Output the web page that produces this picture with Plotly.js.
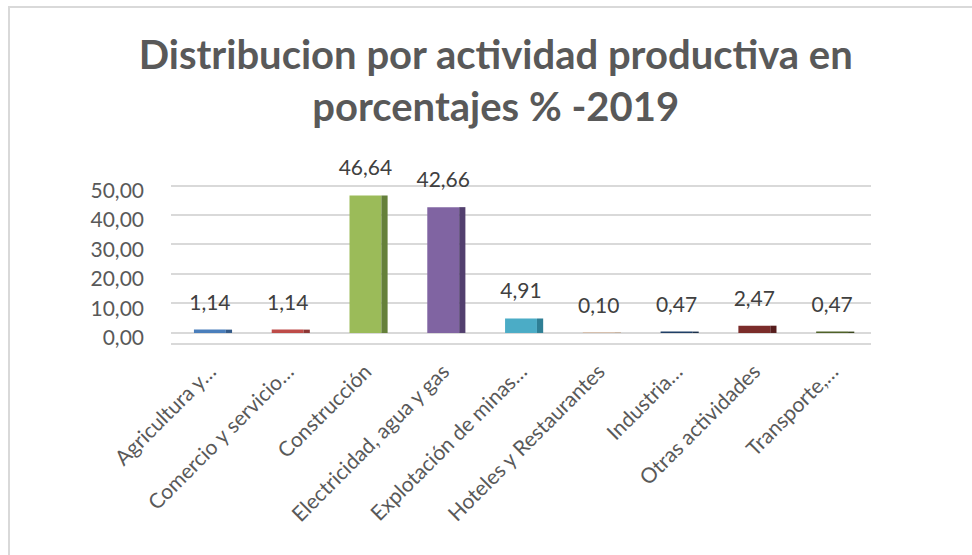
<!DOCTYPE html>
<html>
<head>
<meta charset="utf-8">
<script src="https://cdn.plot.ly/plotly-3.0.1.min.js"></script>
<style>
html,body{margin:0;padding:0;background:#fff;overflow:hidden;}
#chart{width:972px;height:555px;position:absolute;left:0;top:0;}
#frame{position:absolute;left:8px;top:6px;width:2000px;height:2000px;border-top:2px solid #d9d9d9;border-left:2px solid #d9d9d9;pointer-events:none;z-index:10;}
</style>
</head>
<body>
<div id="chart"></div>
<div id="frame"></div>
<script>
const categories = [
  "Agricultura y…",
  "Comercio y servicio…",
  "Construcción",
  "Electricidad, agua y gas",
  "Explotación de minas…",
  "Hoteles y Restaurantes",
  "Industria…",
  "Otras actividades",
  "Transporte,…"
];
const values = [1.14, 1.14, 46.64, 42.66, 4.91, 0.10, 0.47, 2.47, 0.47];
const frontColors = ["#4a7ebb","#be4b48","#9bbb59","#8064a2","#4bacc6","#d07a32","#1f3f66","#7b2c2a","#4f6228"];
const sideColors  = ["#345a88","#8c3533","#65803a","#523f6e","#2f7f95","#9c5a22","#152b47","#561d1c","#374519"];
const yTicks = [0, 10, 20, 30, 40, 50];

function fmt(v){ return v.toFixed(2).replace('.', ','); }

const front = {
  type: 'bar', x: categories, y: values,
  marker: {color: frontColors},
  width: 0.41, offset: -0.205,
  hoverinfo: 'skip', showlegend: false
};
const side = {
  type: 'bar', x: categories, y: values,
  marker: {color: sideColors},
  width: 0.08, offset: 0.205,
  hoverinfo: 'skip', showlegend: false
};
const labels = {
  type: 'scatter', mode: 'markers+text', x: categories, y: values,
  text: values.map(fmt), textposition: 'top center',
  marker: {size: 22, color: 'rgba(0,0,0,0)'},
  textfont: {family: 'Lato, sans-serif', size: 21, color: '#404040'},
  cliponaxis: false, hoverinfo: 'skip', showlegend: false
};

const layout = {
  width: 972, height: 555,
  paper_bgcolor: '#ffffff', plot_bgcolor: '#ffffff',
  margin: {l: 171, r: 101, t: 156, b: 212},
  barmode: 'overlay',
  title: {
    text: 'Distribucion por actividad productiva en<br>porcentajes % -2019',
    font: {family: 'Lato, sans-serif', size: 40, color: '#595959', weight: 'bold'},
    x: 0.51, xanchor: 'center', y: 0.876, yanchor: 'top'
  },
  xaxis: {
    type: 'category', tickangle: -45,
    range: [-0.5, categories.length - 0.5], autorange: false,
    showline: true, linecolor: '#d9d9d9', linewidth: 2,
    showgrid: false, ticks: '',
    tickfont: {family: 'Lato, sans-serif', size: 21, color: '#595959'},
    ticklabelstandoff: 6
  },
  yaxis: {
    range: [-3.4, 60], autorange: false, tickvals: yTicks, ticktext: yTicks.map(fmt),
    showgrid: true, gridcolor: '#d9d9d9', gridwidth: 2,
    zeroline: false, showline: false, ticks: '',
    tickfont: {family: 'Lato, sans-serif', size: 21, color: '#595959'},
    ticklabelstandoff: 26, ticklabelshift: 5
  }
};

Plotly.newPlot('chart', [front, side, labels], layout, {displayModeBar: false, staticPlot: true});
</script>
</body>
</html>
